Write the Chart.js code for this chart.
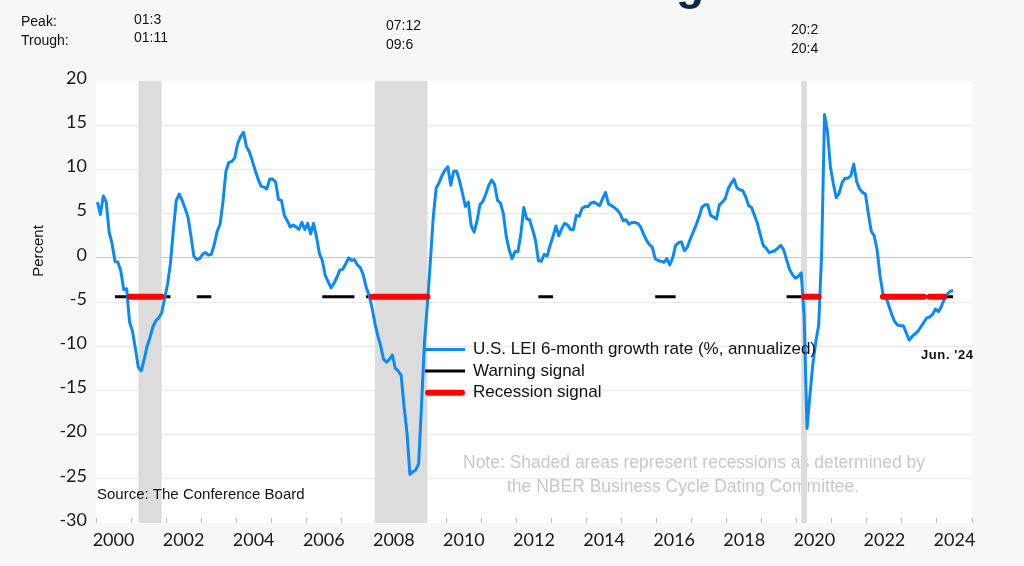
<!DOCTYPE html>
<html>
<head>
<meta charset="utf-8">
<script src="https://cdn.jsdelivr.net/npm/chart.js@4.4.1/dist/chart.umd.min.js"></script>
<style>
  html, body { margin: 0; padding: 0; background: #f7f7f7; }
  canvas { display: block; }
</style>
</head>
<body>
<canvas id="leiChart" width="1024" height="566"></canvas>
<script>
/* U.S. LEI 6-month growth rate, monthly, Jan 2000 - Jun 2024 */
const startYear = 2000;
const lei6m = [
  6.3, 4.9, 7.0, 6.3, 2.9, 1.6, -0.4, -0.5, -1.5, -3.6, -3.5, -7.3,          // 2000
  -8.3, -10.3, -12.4, -12.8, -11.5, -10.0, -9.0, -7.8, -7.1, -6.8, -6.2, -4.6, // 2001
  -3.0, -0.6, 3.2, 6.5, 7.2, 6.5, 5.6, 4.6, 2.5, 0.2, -0.2, -0.1,            // 2002
  0.4, 0.6, 0.3, 0.4, 1.5, 3.0, 3.8, 6.4, 9.8, 10.8, 10.9, 11.3,             // 2003
  12.9, 13.7, 14.2, 12.6, 12.0, 11.0, 9.9, 8.9, 8.1, 8.0, 7.8, 8.9,          // 2004
  8.9, 8.6, 6.6, 6.5, 4.8, 4.2, 3.5, 3.7, 3.5, 3.2, 4.0, 3.2,                // 2005
  3.9, 2.7, 3.9, 2.4, 0.5, -0.3, -2.0, -2.7, -3.4, -2.9, -2.2, -1.4,         // 2006
  -1.3, -0.7, 0.0, -0.3, -0.2, -0.8, -1.1, -1.9, -3.3, -4.2, -5.6, -7.4,     // 2007
  -8.8, -10.0, -11.5, -11.8, -11.5, -11.0, -12.5, -12.8, -13.3, -16.8, -19.8, -24.5, // 2008
  -24.2, -24.0, -23.3, -16.5, -9.5, -5.2, -0.4, 4.6, 7.9, 8.5, 9.3, 9.9,     // 2009
  10.3, 8.2, 9.8, 9.8, 8.7, 7.3, 5.8, 6.3, 3.6, 2.9, 4.2, 6.0,               // 2010
  6.4, 7.2, 8.2, 8.8, 8.3, 6.5, 6.2, 5.0, 2.4, 0.9, -0.1, 0.7,               // 2011
  0.7, 2.7, 5.7, 4.4, 4.3, 3.2, 2.0, -0.3, -0.4, 0.4, 0.2, 1.4,              // 2012
  2.4, 3.6, 2.5, 3.3, 3.9, 3.7, 3.2, 3.2, 4.8, 4.7, 5.6, 5.8,                // 2013
  5.8, 6.2, 6.3, 6.1, 5.9, 6.7, 7.4, 6.1, 5.9, 5.7, 5.4, 5.0,                // 2014
  4.2, 4.3, 3.8, 4.0, 4.0, 3.9, 3.5, 2.7, 2.0, 1.5, 1.2, -0.1,               // 2015
  -0.3, -0.4, -0.5, -0.1, -0.8, 0.0, 1.4, 1.7, 1.8, 0.8, 1.2, 2.1,           // 2016
  2.9, 3.7, 4.6, 5.7, 6.0, 6.0, 4.8, 4.6, 4.4, 6.0, 6.3, 6.7,                // 2017
  7.8, 8.4, 8.9, 7.9, 7.7, 7.6, 6.9, 5.9, 5.7, 4.8, 3.9, 2.6,                // 2018
  1.4, 1.1, 0.6, 0.7, 0.8, 1.1, 1.4, 0.9, -0.2, -1.3, -1.9, -2.3,            // 2019
  -2.1, -1.7, -6.5, -19.3, -15.5, -12.0, -9.5, -7.6, 0.5, 16.2, 14.3, 10.3,  // 2020
  8.4, 6.8, 7.3, 8.5, 9.0, 9.0, 9.3, 10.6, 8.6, 7.8, 7.4, 7.2,               // 2021
  5.0, 3.0, 2.5, 0.9, -2.0, -4.1, -4.4, -5.4, -6.4, -7.2, -7.6, -7.7,        // 2022
  -7.7, -8.5, -9.3, -8.9, -8.6, -8.3, -7.8, -7.3, -6.8, -6.7, -6.4, -5.8,    // 2023
  -6.1, -5.5, -4.7, -4.1, -3.8, -3.7                                          // 2024
];

const xTickYears = [2000, 2002, 2004, 2006, 2008, 2010, 2012, 2014, 2016, 2018, 2020, 2022, 2024];
const yTicks = [20, 15, 10, 5, 0, -5, -10, -15, -20, -25, -30];

// NBER recessions, peak month -> trough month
const recessions = [["2001-03", "2001-11"], ["2007-12", "2009-06"], ["2020-02", "2020-04"]];
const peakLabels = ["01:3", "07:12", "20:2"];
const troughLabels = ["01:11", "09:6", "20:4"];

// months in which each signal was on
const signalLevel = -4.4;
const warningSignal = [
  ["2000-07", "2002-02"], ["2002-11", "2003-04"], ["2006-06", "2007-05"], ["2007-09", "2009-06"],
  ["2012-08", "2013-01"], ["2015-12", "2016-07"], ["2019-09", "2020-02"], ["2022-06", "2024-06"]
];
const recessionSignal = [
  ["2000-12", "2001-11"], ["2007-11", "2009-06"], ["2020-03", "2020-08"],
  ["2022-06", "2023-08"], ["2023-10", "2024-03"]
];

const seriesLabels = ["U.S. LEI 6-month growth rate (%, annualized)", "Warning signal", "Recession signal"];
const noteLines = ["Note: Shaded areas represent recessions as determined by", "the NBER Business Cycle Dating Committee."];
const sourceText = "Source: The Conference Board";
const lastLabel = "Jun. '24";

/* helpers */
function monthIndex(s) {
  const [y, m] = s.split("-").map(Number);
  return (y - startYear) * 12 + (m - 1);
}
function xOf(i) { return startYear + (i + 0.5) / 12; }

function signalData(periods) {
  return lei6m.map((_, i) => {
    const on = periods.some(([a, b]) => i >= monthIndex(a) && i <= monthIndex(b));
    return { x: xOf(i), y: on ? signalLevel : null };
  });
}

const SANS = '"Liberation Sans", Arial, sans-serif';

const decor = {
  id: "decor",
  beforeDraw(chart) {
    const { ctx, chartArea: a } = chart;
    ctx.save();
    ctx.fillStyle = "#ffffff";
    ctx.fillRect(a.left, a.top, a.right - a.left, a.bottom - a.top);
    ctx.restore();
  },
  beforeDatasetsDraw(chart) {
    const { ctx, chartArea: a, scales } = chart;
    const x = scales.x;
    ctx.save();
    ctx.textBaseline = "middle";
    ctx.font = "17.5px " + SANS;
    ctx.fillStyle = "#c8c8c8";
    ctx.fillText(noteLines[0], 463, 463);
    ctx.fillText(noteLines[1], 507, 487);

    // recession shading
    ctx.fillStyle = "#dcdcdc";
    recessions.forEach(([p, t]) => {
      const x0 = x.getPixelForValue(xOf(monthIndex(p)));
      const x1 = x.getPixelForValue(xOf(monthIndex(t)));
      ctx.fillRect(x0, a.top, x1 - x0, a.bottom - a.top);
    });

    ctx.fillStyle = "#111";
    ctx.font = "15px " + SANS;
    ctx.fillText(sourceText, 97, 495);
    ctx.restore();
  },
  afterDraw(chart) {
    const { ctx } = chart;
    ctx.save();

    // legend
    ctx.textBaseline = "middle";
    ctx.font = "17px " + SANS;
    chart.data.datasets.forEach((ds, i) => {
      const y = 349.5 + i * 21.6;
      ctx.strokeStyle = ds.borderColor;
      ctx.lineWidth = ds.borderWidth;
      ctx.lineCap = ds.borderCapStyle || "butt";
      ctx.beginPath();
      ctx.moveTo(ds.borderCapStyle === "round" ? 428 : 425, y);
      ctx.lineTo(ds.borderCapStyle === "round" ? 462 : 465, y);
      ctx.stroke();
      ctx.fillStyle = "#111";
      ctx.fillText(ds.label, 473, y);
    });

    // latest month label
    ctx.font = "bold 13px " + SANS;
    ctx.letterSpacing = "0.6px";
    ctx.fillText(lastLabel, 921, 355);
    ctx.letterSpacing = "0px";

    // peak / trough dates
    ctx.font = "14px " + SANS;
    ctx.fillText("Peak:", 21, 22.5);
    ctx.fillText("Trough:", 21, 41.5);
    const lx = [134, 386, 791];
    const py = [20, 25.7, 30];
    const ty = [38.3, 44.7, 49];
    peakLabels.forEach((t, i) => ctx.fillText(t, lx[i], py[i]));
    troughLabels.forEach((t, i) => ctx.fillText(t, lx[i], ty[i]));

    // axis title
    ctx.font = "15px " + SANS;
    ctx.translate(39, 251);
    ctx.rotate(-Math.PI / 2);
    ctx.textAlign = "center";
    ctx.fillText("Percent", 0, 0);
    ctx.setTransform(1, 0, 0, 1, 0, 0);

    // bottom of the cropped headline
    ctx.textAlign = "left";
    ctx.textBaseline = "alphabetic";
    ctx.fillStyle = "#0e2841";
    ctx.font = "bold 46px " + SANS;
    ctx.fillText("g", 676, -1);
    ctx.restore();
  }
};

new Chart(document.getElementById("leiChart"), {
  type: "line",
  data: {
    datasets: [{
      label: seriesLabels[0],
      data: lei6m.map((v, i) => ({ x: xOf(i), y: v })),
      borderColor: "#0a8af5",
      borderWidth: 3,
      borderJoinStyle: "round",
      pointRadius: 0,
      tension: 0,
      order: 2
    }, {
      label: seriesLabels[1],
      data: signalData(warningSignal),
      borderColor: "#000000",
      borderWidth: 3,
      borderCapStyle: "butt",
      pointRadius: 0,
      spanGaps: false,
      order: 3
    }, {
      label: seriesLabels[2],
      data: signalData(recessionSignal),
      borderColor: "#ff0000",
      borderWidth: 6,
      borderCapStyle: "round",
      pointRadius: 0,
      spanGaps: false,
      order: 1
    }]
  },
  options: {
    responsive: false,
    animation: false,
    devicePixelRatio: 1,
    layout: { padding: { top: 81, right: 52, left: 0, bottom: 0 } },
    plugins: { legend: { display: false }, tooltip: { enabled: false } },
    scales: {
      x: {
        type: "linear",
        position: "bottom",
        min: startYear,
        max: 2025,
        weight: 0,
        afterBuildTicks(scale) {
          const t = [];
          for (let y = startYear; y <= 2025; y++) t.push({ value: y });
          scale.ticks = t;
        },
        afterFit(scale) { scale.height = 0; },
        ticks: { display: false },
        border: { display: false },
        grid: { drawOnChartArea: false, drawTicks: true, tickLength: -5, color: "#bfbfbf", lineWidth: 1 }
      },
      xl: {
        type: "linear",
        position: "bottom",
        min: startYear,
        max: 2025,
        weight: 1,
        afterBuildTicks(scale) { scale.ticks = xTickYears.map(y => ({ value: y + 0.5 })); },
        afterFit(scale) { scale.height = 43; },
        border: { display: false },
        grid: { display: false, drawTicks: false },
        ticks: {
          autoSkip: false,
          maxRotation: 0,
          padding: 6,
          color: "#1a1a1a",
          font: { family: "Lato", size: 18 },
          callback: (v, i) => String(xTickYears[i])
        }
      },
      y: {
        min: -30,
        max: 20,
        afterBuildTicks(scale) { scale.ticks = yTicks.map(v => ({ value: v })); },
        afterFit(scale) { scale.width = 96; },
        border: { display: false },
        grid: {
          drawTicks: false,
          color: (c) => c.tick.value === 0 ? "#c6c6c6" : (c.tick.value === 20 || c.tick.value === -30 ? "rgba(0,0,0,0)" : "#e8e8e8")
        },
        ticks: {
          padding: 9,
          labelOffset: -3,
          color: "#1a1a1a",
          font: { family: "Lato", size: 18 }
        }
      }
    }
  },
  plugins: [decor]
});
</script>
</body>
</html>
